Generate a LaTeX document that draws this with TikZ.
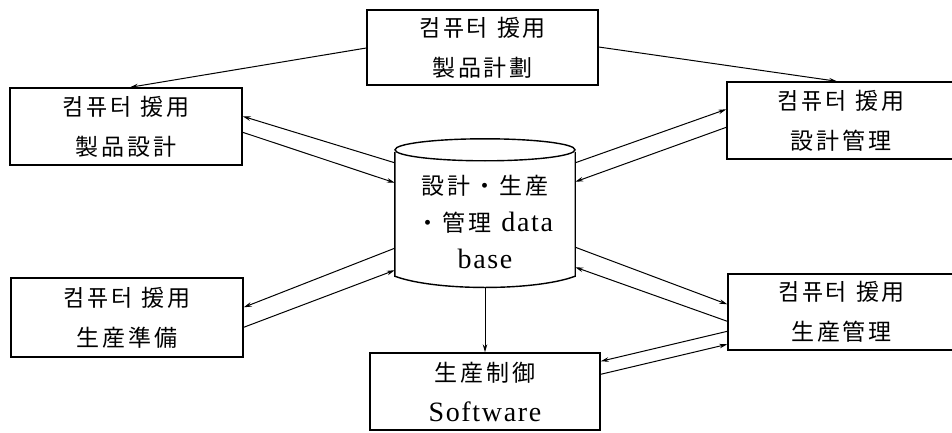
\documentclass[tikz,border=0pt]{standalone}
\usepackage{fontspec}
\newfontfamily\cjk[LetterSpace=12]{Noto Sans CJK KR}
\newfontfamily\lat[LetterSpace=6]{Liberation Serif}
\usetikzlibrary{arrows.meta,calc}
\newcommand\gapsp{\hspace{9pt}}
\begin{document}
\begin{tikzpicture}[x=1pt,y=-1pt,
  boxst/.style={draw,line width=1.4pt,rectangle,inner sep=0pt,align=center,
    font=\fontsize{23}{40}\selectfont\cjk},
  arr/.style={line width=1pt,-{Stealth[length=8pt,width=4.5pt]}}]
\useasboundingbox (0,0) rectangle (952,433);
\clip (0,0) rectangle (952,433);
\fill[white] (0,0) rectangle (952,433);
% boxes
\node[boxst,minimum width=231pt,minimum height=75pt] (top) at (482.5,47.5) {컴퓨터\gapsp 援用\\製品計劃};
\node[boxst,minimum width=232pt,minimum height=77pt] (lt) at (126,126.5) {컴퓨터\gapsp 援用\\製品設計};
\node[boxst,minimum width=228pt,minimum height=77pt] (rt) at (841,120.5) {컴퓨터\gapsp 援用\\設計管理};
\node[boxst,minimum width=232pt,minimum height=79pt] (lb) at (127,317.5) {컴퓨터\gapsp 援用\\生産準備};
\node[boxst,minimum width=230pt,minimum height=77pt] (bot) at (485,391.5) {生産制御\\{\fontsize{28}{40}\selectfont\lat Software}};
\node[boxst,minimum width=227pt,minimum height=76pt] (rb) at (841.5,312) {컴퓨터\gapsp 援用\\生産管理};
% database cylinder
\node[minimum width=180pt,minimum height=124pt,inner sep=0pt] (db) at (485,214) {};
\draw[line width=1.4pt] (db.north west) -- (db.south west)
  .. controls ($(db.south west)+(40,15)$) and ($(db.south east)+(-40,15)$) .. (db.south east)
  -- (db.north east);
\draw[line width=1.4pt] ($(db.north)+(0,-2)$) ellipse [x radius=90pt, y radius=11pt];
\node[align=center,inner sep=0pt,font=\fontsize{28}{37}\selectfont\lat] (dbtext) at (485,222)
  {{\fontsize{23}{37}\selectfont\cjk 設計・生産}\\{\fontsize{23}{37}\selectfont\cjk ・管理}\hspace*{10pt}data\\base};
% connectors
\draw[arr] ($(top.west)+(0,0.5)$) -- ($(lt.north)+(4,0)$);
\draw[arr] ($(top.east)+(0,-0.5)$) -- ($(rt.north)+(-4,0)$);
\draw[arr] ($(db.north west)+(0,11)$) -- ($(lt.north east)+(0,29)$);
\draw[arr] ($(lt.north east)+(0,45)$) -- ($(db.north west)+(0,31)$);
\draw[arr] ($(db.north east)+(0,11)$) -- ($(rt.north west)+(0,28)$);
\draw[arr] ($(rt.north west)+(0,46)$) -- ($(db.north east)+(0,30)$);
\draw[arr] ($(db.south west)+(0,-28)$) -- ($(lb.north east)+(0,30)$);
\draw[arr] ($(lb.north east)+(0,50)$) -- ($(db.south west)+(0,-6)$);
\draw[arr] ($(db.south east)+(0,-29)$) -- ($(rb.north west)+(0,31)$);
\draw[arr] ($(rb.north west)+(0,48)$) -- ($(db.south east)+(0,-9)$);
\draw[arr] ($(rb.north west)+(0,58)$) -- ($(bot.north east)+(0,9)$);
\draw[arr] ($(bot.north east)+(0,22)$) -- ($(rb.north west)+(0,71)$);
\draw[arr] ($(db.south)+(0,11)$) -- (bot.north);
\end{tikzpicture}
\end{document}
